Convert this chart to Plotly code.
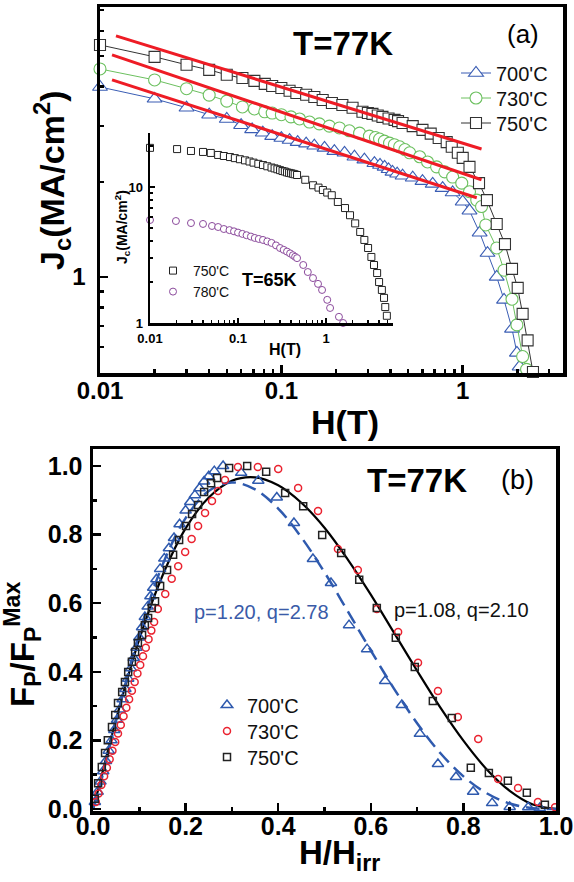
import plotly.graph_objects as go

FONT = "Liberation Sans, Arial, sans-serif"
W, H = 574, 882

# ---------------- Panel (a): Jc(H) at 77 K ----------------
H700 = [0.01, 0.02, 0.03, 0.04, 0.05, 0.06, 0.069, 0.079, 0.089, 0.10, 0.111, 0.123, 0.137, 0.152, 0.173,
        0.196, 0.223, 0.253, 0.287, 0.326, 0.35, 0.371, 0.39, 0.41, 0.435, 0.466, 0.53, 0.60, 0.683, 0.775,
        0.88, 1.0, 1.09, 1.24, 1.37, 1.54, 1.69, 1.87, 1.99, 2.06]
J700 = [3.99, 3.66, 3.43, 3.26, 3.16, 3.02, 2.93, 2.86, 2.79, 2.75, 2.71, 2.67, 2.64, 2.60, 2.56,
        2.50, 2.47, 2.40, 2.35, 2.29, 2.26, 2.23, 2.19, 2.15, 2.12, 2.09, 2.06, 2.01, 1.97, 1.91,
        1.85, 1.73, 1.62, 1.38, 1.19, 1.00, 0.846, 0.685, 0.575, 0.52]

H730 = [0.01, 0.02, 0.03, 0.04, 0.05, 0.061, 0.071, 0.081, 0.089, 0.10, 0.113, 0.126, 0.143, 0.162, 0.184,
        0.209, 0.237, 0.27, 0.306, 0.33, 0.348, 0.37, 0.395, 0.42, 0.449, 0.48, 0.51, 0.579, 0.64, 0.718,
        0.796, 0.88, 0.988, 1.09, 1.195, 1.27, 1.34, 1.54, 1.69, 1.87, 1.99, 2.14, 2.25]
J730 = [4.55, 4.20, 3.94, 3.76, 3.60, 3.45, 3.40, 3.33, 3.30, 3.26, 3.21, 3.16, 3.09, 3.05, 3.00,
        2.96, 2.90, 2.85, 2.79, 2.76, 2.73, 2.69, 2.65, 2.62, 2.58, 2.53, 2.47, 2.40, 2.31, 2.23,
        2.15, 2.07, 1.98, 1.86, 1.75, 1.67, 1.46, 1.235, 1.05, 0.85, 0.705, 0.56, 0.51]

H750 = [0.01, 0.02, 0.03, 0.04, 0.05, 0.061, 0.071, 0.081, 0.089, 0.10, 0.111, 0.121, 0.137, 0.152, 0.169,
        0.19, 0.217, 0.247, 0.28, 0.30, 0.318, 0.34, 0.361, 0.39, 0.421, 0.44, 0.466, 0.53, 0.60, 0.666,
        0.737, 0.816, 0.87, 0.94, 1.0, 1.09, 1.23, 1.36, 1.54, 1.71, 1.87, 2.01, 2.14, 2.28, 2.44]
J750 = [5.42, 4.97, 4.69, 4.52, 4.36, 4.26, 4.17, 4.08, 4.02, 3.96, 3.88, 3.82, 3.77, 3.71, 3.63,
        3.55, 3.50, 3.43, 3.33, 3.30, 3.28, 3.24, 3.21, 3.17, 3.14, 3.11, 3.07, 3.00, 2.92, 2.84,
        2.75, 2.67, 2.58, 2.47, 2.38, 2.23, 1.98, 1.75, 1.47, 1.27, 1.06, 0.923, 0.764, 0.63, 0.50]

# red power-law guide lines (end points)
fitA_H = [[0.01225, 1.27], [0.01165, 1.27], [0.01165, 1.195]]
fitA_J = [[5.79, 2.54], [5.04, 2.03], [4.20, 1.78]]

# ---------------- Inset: Jc(H) at 65 K ----------------
H750i = [0.01, 0.0203, 0.0292, 0.04, 0.049, 0.0594, 0.069, 0.081, 0.092, 0.105, 0.12, 0.135, 0.15, 0.17,
         0.192, 0.215, 0.24, 0.26, 0.28, 0.30, 0.32, 0.34, 0.36, 0.38, 0.40, 0.42, 0.44, 0.468, 0.58, 0.711,
         0.82, 0.92, 1.03, 1.16, 1.36, 1.64, 1.87, 2.14, 2.44, 2.72, 3.0, 3.27, 3.5, 3.8, 4.0, 4.3, 4.55,
         4.7, 4.9]
J750i = [19.4, 19.0, 18.4, 18.1, 17.8, 17.2, 16.9, 16.6, 16.3, 16.0, 15.7, 15.4, 15.1, 14.8,
         14.5, 14.2, 13.9, 13.7, 13.5, 13.3, 13.1, 13.0, 12.8, 12.7, 12.6, 12.5, 12.4, 12.25, 11.3, 10.3,
         9.9, 9.5, 9.1, 8.7, 7.76, 7.0, 6.2, 5.4, 4.67, 4.08, 3.56, 3.06, 2.67, 2.33, 2.0, 1.75, 1.53,
         1.31, 1.13]
H780i = [0.01, 0.0197, 0.0292, 0.04, 0.0506, 0.0594, 0.069, 0.08, 0.09, 0.10, 0.112, 0.125, 0.14, 0.155,
         0.172, 0.192, 0.215, 0.24, 0.27, 0.30, 0.33, 0.36, 0.39, 0.42, 0.445, 0.468, 0.55, 0.62, 0.71,
         0.81, 0.9, 1.03, 1.11, 1.4, 1.56]
J780i = [5.72, 5.62, 5.43, 5.35, 5.17, 5.08, 4.91, 4.82, 4.72, 4.62, 4.52, 4.42, 4.32, 4.22,
         4.15, 4.08, 3.98, 3.88, 3.72, 3.56, 3.45, 3.35, 3.25, 3.15, 3.07, 3.0, 2.67, 2.37, 2.14,
         1.94, 1.75, 1.48, 1.29, 1.11, 1.0]

# ---------------- Panel (b): normalized pinning force ----------------
h700 = [0.004, 0.010, 0.016, 0.022, 0.028, 0.034, 0.040, 0.046, 0.052, 0.058, 0.064, 0.070, 0.076, 0.082,
        0.088, 0.094, 0.100, 0.106, 0.112, 0.118, 0.124, 0.130, 0.137, 0.145, 0.154, 0.164, 0.175, 0.187,
        0.200, 0.210, 0.220, 0.230, 0.240, 0.250, 0.262, 0.281, 0.320, 0.357, 0.397, 0.434, 0.475, 0.514,
        0.553, 0.592, 0.631, 0.667, 0.706, 0.745, 0.784, 0.821, 0.862, 0.90, 0.94, 0.965]
f700 = [0.02, 0.05, 0.08, 0.11, 0.14, 0.17, 0.20, 0.23, 0.26, 0.29, 0.32, 0.35, 0.38, 0.41,
        0.44, 0.47, 0.50, 0.53, 0.56, 0.59, 0.62, 0.645, 0.67, 0.70, 0.73, 0.76, 0.79, 0.83,
        0.87, 0.895, 0.915, 0.935, 0.955, 0.97, 0.985, 1.0, 0.98, 0.957, 0.908, 0.834, 0.729, 0.659,
        0.536, 0.466, 0.373, 0.303, 0.219, 0.131, 0.093, 0.05, 0.017, 0.006, 0.005, 0.003]

h730 = [0.006, 0.012, 0.018, 0.024, 0.030, 0.036, 0.042, 0.048, 0.054, 0.060, 0.066, 0.072, 0.078, 0.084,
        0.090, 0.096, 0.102, 0.108, 0.114, 0.120, 0.126, 0.132, 0.140, 0.156, 0.170, 0.184, 0.199, 0.213,
        0.227, 0.242, 0.257, 0.270, 0.285, 0.313, 0.356, 0.400, 0.443, 0.486, 0.529, 0.572, 0.613, 0.659,
        0.702, 0.745, 0.788, 0.832, 0.875, 0.918, 0.961, 0.998]
f730 = [0.02, 0.045, 0.07, 0.095, 0.12, 0.145, 0.17, 0.195, 0.22, 0.245, 0.27, 0.295, 0.32, 0.345,
        0.37, 0.395, 0.42, 0.445, 0.47, 0.495, 0.52, 0.545, 0.583, 0.627, 0.671, 0.708, 0.749, 0.787,
        0.825, 0.863, 0.898, 0.927, 0.959, 0.997, 0.997, 0.991, 0.936, 0.869, 0.758, 0.697, 0.583, 0.516,
        0.426, 0.344, 0.268, 0.204, 0.087, 0.061, 0.02, 0.005]

h750 = [0.004, 0.011, 0.019, 0.026, 0.032, 0.041, 0.048, 0.054, 0.063, 0.069, 0.076, 0.084, 0.091, 0.097,
        0.106, 0.112, 0.119, 0.127, 0.134, 0.145, 0.160, 0.173, 0.186, 0.201, 0.214, 0.227, 0.240, 0.255,
        0.268, 0.294, 0.333, 0.374, 0.415, 0.454, 0.495, 0.536, 0.575, 0.613, 0.654, 0.695, 0.734, 0.775,
        0.816, 0.855, 0.896, 0.937, 0.976]
f750 = [0.03, 0.075, 0.122, 0.163, 0.20, 0.239, 0.274, 0.309, 0.341, 0.37, 0.399, 0.429, 0.458, 0.484,
        0.507, 0.536, 0.557, 0.586, 0.606, 0.65, 0.697, 0.741, 0.784, 0.825, 0.86, 0.886, 0.924, 0.95,
        0.965, 0.994, 1.0, 0.983, 0.921, 0.883, 0.799, 0.746, 0.668, 0.586, 0.499, 0.414, 0.315, 0.265,
        0.12, 0.105, 0.082, 0.047, 0.012]

# fit curves (Dew-Hughes fits)
hfit750 = [0, 0.005, 0.01, 0.02, 0.05, 0.1, 0.15, 0.2, 0.25, 0.3, 0.35, 0.4, 0.45, 0.5, 0.55, 0.6, 0.65,
           0.7, 0.75, 0.8, 0.85, 0.9, 0.95, 1.0]
ffit750 = [0, 0.024, 0.050, 0.104, 0.262, 0.495, 0.680, 0.818, 0.908, 0.957, 0.967, 0.944, 0.893, 0.820,
           0.728, 0.625, 0.514, 0.403, 0.296, 0.199, 0.116, 0.053, 0.013, 0.0]
hfit700 = [0, 0.01, 0.02, 0.05, 0.1, 0.15, 0.2, 0.25, 0.3, 0.35, 0.4, 0.45, 0.5, 0.55, 0.6, 0.65, 0.7,
           0.75, 0.8, 0.85, 0.9, 0.95, 1.0]
ffit700 = [0, 0.042, 0.094, 0.259, 0.512, 0.711, 0.848, 0.927, 0.952, 0.932, 0.876, 0.792, 0.690, 0.577,
           0.462, 0.351, 0.250, 0.163, 0.095, 0.046, 0.016, 0.002, 0]

# tick labels
xa_ticks = [0.01, 0.1, 1]
xa_text = ["0.01", "0.1", "1"]
xa_minor = [0.02, 0.03, 0.04, 0.05, 0.06, 0.07, 0.08, 0.09, 0.2, 0.3, 0.4, 0.5, 0.6, 0.7, 0.8, 0.9, 2, 3]
ya_ticks = [1]
ya_text = ["1"]
ya_minor = [0.5, 0.6, 0.7, 0.8, 0.9, 2, 3, 4, 5, 6, 7]
xi_ticks = [0.01, 0.1, 1]
xi_text = ["0.01", "0.1", "1"]
xi_minor = [0.02, 0.03, 0.04, 0.05, 0.06, 0.07, 0.08, 0.09, 0.2, 0.3, 0.4, 0.5, 0.6, 0.7, 0.8, 0.9, 2, 3, 4, 5]
yi_ticks = [1, 10]
yi_text = ["1", "10"]
yi_minor = [2, 3, 4, 5, 6, 7, 8, 9, 20]
b_ticks = [0.0, 0.2, 0.4, 0.6, 0.8, 1.0]
b_text = ["0.0", "0.2", "0.4", "0.6", "0.8", "1.0"]
b_minor = [0.1, 0.3, 0.5, 0.7, 0.9]


def px(x):
    return x / W


def py(y):
    return 1 - y / H


BLUE = "#3A5DB4"
GREEN = "#6CC05F"
BLK = "#222222"
RED = "#EE1C25"
RED_B = "#EA2330"
PURPLE = "#8B4A9C"

fig = go.Figure()

# main panel (a)
for hx, jy, col, sym, sz, nm, lg in [
    (H700, J700, BLUE, "triangle-up", 13, "700'C", "legend"),
    (H730, J730, GREEN, "circle", 12, "730'C", "legend2"),
    (H750, J750, "#333333", "square", 11, "750'C", "legend3"),
]:
    fig.add_trace(go.Scatter(
        x=hx, y=jy, mode="lines+markers", name=nm, legend=lg, cliponaxis=False,
        line=dict(color=col, width=1),
        marker=dict(symbol=sym, size=sz, color="white", line=dict(color=col, width=1.1)),
        xaxis="x", yaxis="y"))

for hx, jy in zip(fitA_H, fitA_J):
    fig.add_trace(go.Scatter(x=hx, y=jy, mode="lines", line=dict(color=RED, width=3),
                             showlegend=False, xaxis="x", yaxis="y", hoverinfo="skip"))

# inset
fig.add_trace(go.Scatter(x=H750i, y=J750i, mode="markers", name="750'C", legend="legend7",
                         cliponaxis=False,
                         marker=dict(symbol="square", size=7, color="white", line=dict(color=BLK, width=1)),
                         xaxis="x3", yaxis="y3"))
fig.add_trace(go.Scatter(x=H780i, y=J780i, mode="markers", name="780'C", legend="legend8",
                         cliponaxis=False,
                         marker=dict(symbol="circle", size=7, color="white", line=dict(color=PURPLE, width=1)),
                         xaxis="x3", yaxis="y3"))

# panel (b) fits
fig.add_trace(go.Scatter(x=hfit750, y=ffit750, mode="lines", line=dict(color="black", width=2.2, shape="spline"),
                         showlegend=False, xaxis="x2", yaxis="y2", hoverinfo="skip"))
fig.add_trace(go.Scatter(x=hfit700, y=ffit700, mode="lines",
                         line=dict(color="#2F5AAE", width=2.5, dash="14px,7px", shape="spline"),
                         showlegend=False, xaxis="x2", yaxis="y2", hoverinfo="skip"))

for hx, fy, col, sym, sz, nm, lg in [
    (h700, f700, "#2F5AAE", "triangle-up-open", 10, "700'C", "legend4"),
    (h730, f730, RED_B, "circle-open", 7, "730'C", "legend5"),
    (h750, f750, BLK, "square-open", 7, "750'C", "legend6"),
]:
    fig.add_trace(go.Scatter(x=hx, y=fy, mode="markers", name=nm, legend=lg, cliponaxis=False,
                             marker=dict(symbol=sym, size=sz, color=col, line=dict(color=col, width=1.5)),
                             xaxis="x2", yaxis="y2"))

tickfont_a = dict(family=FONT, size=24, color="black", weight="bold")
tickfont_b = dict(family=FONT, size=25, color="black", weight="bold")
tickfont_i = dict(family=FONT, size=13, color="black", weight="bold")

common = dict(showgrid=False, zeroline=False, showline=True, linecolor="black", ticks="inside",
              tickcolor="black")

layout = dict(
    width=W, height=H, margin=dict(l=0, r=0, t=0, b=0, pad=0, autoexpand=False),
    paper_bgcolor="white", plot_bgcolor="rgba(0,0,0,0)",
    font=dict(family=FONT, color="black"),
    xaxis=dict(common, type="log", domain=[px(100), px(563)], range=[-2, 0.553], anchor="y",
               linewidth=3.5, mirror=True, tickvals=xa_ticks, ticktext=xa_text, ticklen=8, tickwidth=2.5,
               tickfont=tickfont_a, ticklabelstandoff=-6,
               minor=dict(tickvals=xa_minor, ticks="inside", ticklen=4, tickwidth=2.5, tickcolor="black")),
    yaxis=dict(common, type="log", domain=[py(373), py(7)], range=[-0.304, 0.854], anchor="x",
               linewidth=3.5, mirror=True, tickvals=ya_ticks, ticktext=ya_text, ticklen=8, tickwidth=2.5,
               tickfont=tickfont_a, ticklabelstandoff=6,
               minor=dict(tickvals=ya_minor, ticks="inside", ticklen=4, tickwidth=2.5, tickcolor="black")),
    xaxis2=dict(common, domain=[px(93), px(556)], range=[0, 1.0], anchor="y2",
                linewidth=3.5, mirror=True, tickvals=b_ticks, ticktext=b_text, ticklen=8, tickwidth=2.5,
                tickfont=tickfont_b, ticklabelstandoff=-10,
                minor=dict(tickvals=b_minor, ticks="inside", ticklen=4, tickwidth=2.5, tickcolor="black")),
    yaxis2=dict(common, domain=[py(811), py(449)], range=[-0.006, 1.0496], anchor="x2",
                linewidth=3.5, mirror=True, tickvals=b_ticks, ticktext=b_text, ticklen=8, tickwidth=2.5,
                tickfont=tickfont_b, ticklabelstandoff=2,
                minor=dict(tickvals=b_minor, ticks="inside", ticklen=4, tickwidth=2.5, tickcolor="black")),
    xaxis3=dict(common, type="log", domain=[px(150), px(393)], range=[-2, 0.76], anchor="y3",
                linewidth=2.5, mirror=False, tickvals=xi_ticks, ticktext=xi_text, ticklen=5, tickwidth=1.5,
                tickfont=tickfont_i, ticklabelstandoff=2,
                minor=dict(tickvals=xi_minor, ticks="inside", ticklen=3, tickwidth=1.5, tickcolor="black")),
    yaxis3=dict(common, type="log", domain=[py(323), py(133)], range=[0, 1.397], anchor="x3",
                linewidth=2.5, mirror=False, tickvals=yi_ticks, ticktext=yi_text, ticklen=5, tickwidth=1.5,
                tickfont=tickfont_i, ticklabelstandoff=2,
                minor=dict(tickvals=yi_minor, ticks="inside", ticklen=3, tickwidth=1.5, tickcolor="black")),
)


def legend_at(xp, yp, size):
    return dict(x=px(xp), y=py(yp), xanchor="left", yanchor="middle", bgcolor="rgba(0,0,0,0)",
                borderwidth=0, itemwidth=30, font=dict(family=FONT, size=size, color="#111111"))


layout["legend"] = legend_at(456, 73, 20)
layout["legend2"] = legend_at(456, 98, 20)
layout["legend3"] = legend_at(456, 123, 20)
layout["legend4"] = legend_at(207, 705, 20)
layout["legend5"] = legend_at(207, 731, 20)
layout["legend6"] = legend_at(207, 757, 20)
layout["legend7"] = legend_at(153, 271, 14)
layout["legend8"] = legend_at(153, 292, 14)

fig.update_layout(**layout)


def ann(text, x, y, size, bold=False, color="black", angle=0, xanchor="center"):
    fig.add_annotation(text=text, x=px(x), y=py(y), xref="paper", yref="paper", showarrow=False,
                       xanchor=xanchor, yanchor="middle", textangle=angle,
                       font=dict(family=FONT, size=size, color=color, weight="bold" if bold else "normal"))


ann("T=77K", 343, 43, 33, bold=True)
ann("(a)", 523, 34, 26)
ann("T=77K", 417, 480, 33, bold=True)
ann("(b)", 517, 480, 27)
ann("p=1.20, q=2.78", 192, 612, 20, color="#3A5BA8", xanchor="left")
ann("p=1.08, q=2.10", 392, 610, 20, color="#111111", xanchor="left")
ann("T=65K", 269, 280, 18, bold=True)
ann("H(T)", 345, 422, 34, bold=True)
ann("J<sub>c</sub>(MA/cm<sup>2</sup>)", 52, 180, 34, bold=True, angle=-90)
ann("J<sub>c</sub>(MA/cm<sup>2</sup>)", 122, 227, 14, bold=True, angle=-90)
ann("H(T)", 285, 350, 16, bold=True)
ann("H/H<sub>irr</sub>", 339, 855, 33, bold=True)
ann("F<sub>P</sub>/F<sub>P</sub><sup>Max</sup>", 22, 645, 33, bold=True, angle=-90)

fig.write_html("out.html", config={"displayModeBar": False, "staticPlot": True},
               post_script="document.body.style.margin='0px';document.body.style.padding='0px';")
